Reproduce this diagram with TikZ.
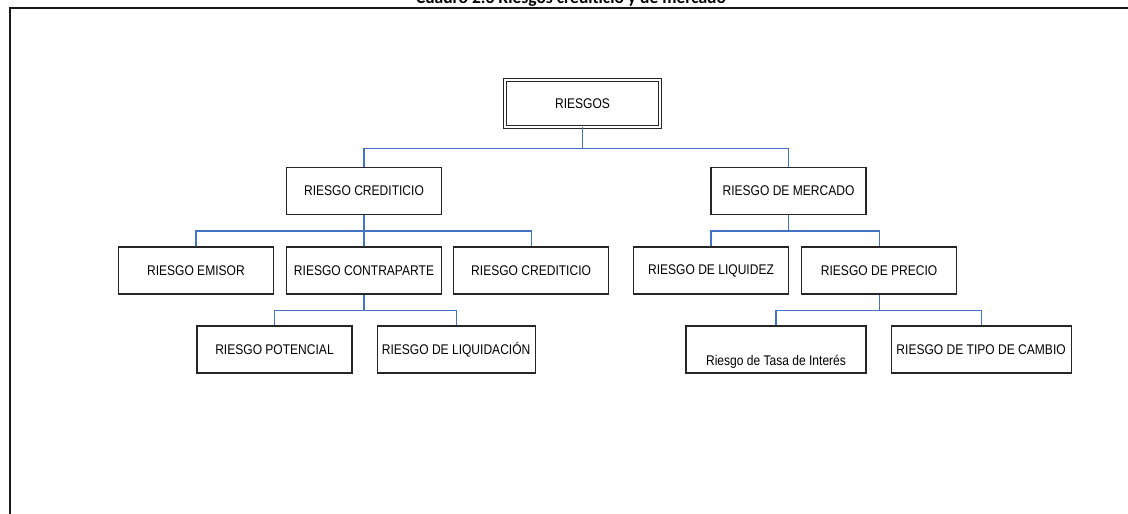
\documentclass[tikz,border=0pt]{standalone}
\usepackage{fontspec}
\usepackage{xcolor}
\usepackage{tikz}
\usetikzlibrary{positioning,calc}
\newfontfamily\boxfont[FakeStretch=0.86]{Liberation Sans}
\newfontfamily\titlefont{Carlito}
\definecolor{linkblue}{RGB}{68,114,196}

\begin{document}
\begin{tikzpicture}[
    x=1pt, y=-1pt,
    riskbox/.style={rectangle, draw=black!85, line width=1.1pt, minimum width=155pt, minimum height=47pt, inner sep=2pt, text centered, font=\boxfont\fontsize{14}{16}\selectfont},
    widebox/.style={riskbox, minimum width=180pt},
    rootbox/.style={riskbox, double, double distance=1.5pt, line width=0.9pt},
    titletext/.style={anchor=base, inner sep=0pt, font=\titlefont\bfseries\fontsize{17.5}{20}\selectfont},
    link/.style={draw=linkblue, line width=1.2pt},
    frame/.style={draw=black!90, line width=2.2pt}
]
    \useasboundingbox (0,0) rectangle (1128,514);

    % Title and frame
    \node[titletext] (titulo) at (571,4) {Cuadro 2.3 Riesgos crediticio y de mercado};
    \draw[frame] (1140,8) -- (10,8) -- (10,530);

    % Root
    \node[rootbox] (riesgos) at (582.5,103.5) {RIESGOS};

    % First level
    \node[riskbox] (credito) at (364,191) {RIESGO CREDITICIO};
    \node[riskbox] (mercado) at (788.5,191) {RIESGO DE MERCADO};

    % Credit risk
    \node[riskbox] (contraparte) at (364,270.5) {RIESGO CONTRAPARTE};
    \node[riskbox, left=12pt of contraparte] (emisor) {RIESGO EMISOR};
    \node[riskbox, right=11pt of contraparte] (credito2) {RIESGO CREDITICIO};
    \node[riskbox] (potencial) at (274.5,349.5) {RIESGO POTENCIAL};
    \node[riskbox, right=24pt of potencial, minimum width=158pt] (liquidacion) {RIESGO DE LIQUIDACIÓN};

    % Market risk
    \node[riskbox] (liquidez) at (711,270.5) {RIESGO DE LIQUIDEZ};
    \node[riskbox, right=12pt of liquidez] (precio) {RIESGO DE PRECIO};
    \node[widebox] (tasa) at (776,349.5) {\raisebox{-16pt}[0pt][0pt]{Riesgo de Tasa de Interés}};
    \node[widebox, right=24pt of tasa] (cambio) {RIESGO DE TIPO DE CAMBIO};

    % Connectors
    \draw[link] (riesgos.south) -- ++(0,21) coordinate (bus1);
    \draw[link] (credito.north) |- (bus1) -| (mercado.north);

    \draw[link] (credito.south) -- ++(0,16) coordinate (bus2);
    \draw[link] (emisor.north) |- (bus2) -| (credito2.north);
    \draw[link] (bus2) -- (contraparte.north);

    \draw[link] (contraparte.south) -- ++(0,16) coordinate (bus3);
    \draw[link] (potencial.north) |- (bus3) -| (liquidacion.north);

    \draw[link] (mercado.south) -- ++(0,16) coordinate (bus4);
    \draw[link] (liquidez.north) |- (bus4) -| (precio.north);

    \draw[link] (precio.south) -- ++(0,16) coordinate (bus5);
    \draw[link] (tasa.north) |- (bus5) -| (cambio.north);
\end{tikzpicture}
\end{document}
